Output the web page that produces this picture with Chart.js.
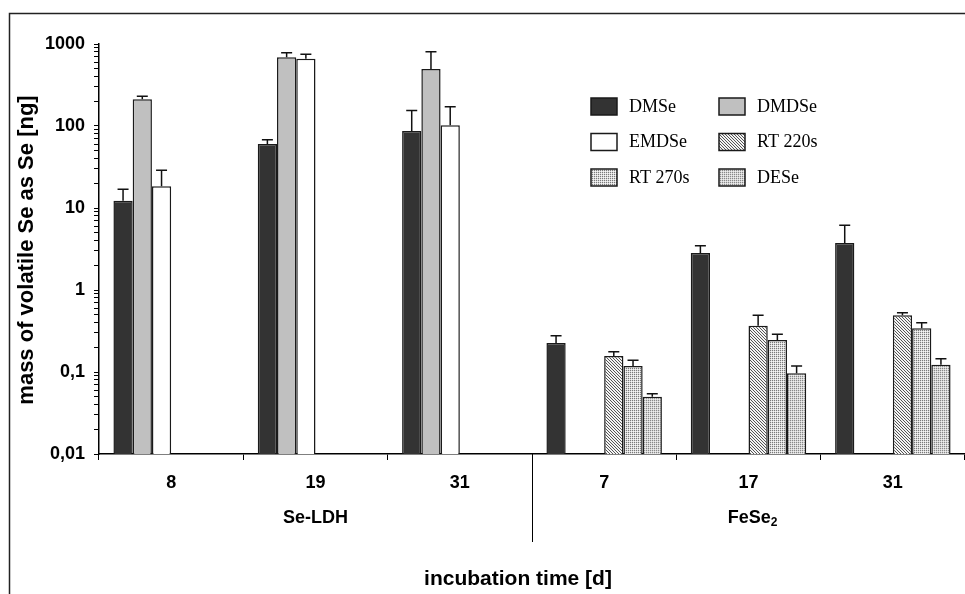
<!DOCTYPE html>
<html>
<head>
<meta charset="utf-8">
<script src="https://cdn.jsdelivr.net/npm/chart.js@4.4.1/dist/chart.umd.min.js"></script>
<style>
  body { margin: 0; background: #fff; }
  #wrap { width: 965px; height: 594px; position: relative; }
</style>
</head>
<body>
<div id="wrap"><canvas id="chart"></canvas></div>
<script>
// incubation times (days), first three Se-LDH, last three FeSe2
const categories = ["8", "19", "31", "7", "17", "31"];
const groupLabels = ["Se-LDH", "FeSe"];

// mean mass of volatile Se [ng]
const dmse  = [12.3, 60.3, 86.9, 0.226, 2.83, 3.74];
const dmdse = [212, 689, 496, null, null, null];
const emdse = [18.4, 662, 102, null, null, null];
const rt220 = [null, null, null, 0.157, 0.367, 0.491];
const rt270 = [null, null, null, 0.118, 0.246, 0.341];
const dese  = [null, null, null, 0.050, 0.0964, 0.123];

// upper end of the error bars [ng]
const dmseErr  = [16.9, 68, 154, 0.277, 3.47, 6.15];
const dmdseErr = [230, 783, 805, null, null, null];
const emdseErr = [28.8, 748, 172, null, null, null];
const rt220Err = [null, null, null, 0.177, 0.491, 0.529];
const rt270Err = [null, null, null, 0.139, 0.288, 0.400];
const deseErr  = [null, null, null, 0.0544, 0.118, 0.145];

const yTickValues = [0.01, 0.1, 1, 10, 100, 1000];
const yTickLabels = ["0,01", "0,1", "1", "10", "100", "1000"];

const seriesNames = ["DMSe", "DMDSe", "EMDSe", "RT 220s", "RT 270s", "DESe"];

function makePattern(size, pixels, bg) {
    const c = document.createElement("canvas");
    c.width = size; c.height = size;
    const g = c.getContext("2d");
    g.fillStyle = bg;
    g.fillRect(0, 0, size, size);
    pixels.forEach(p => {
        g.fillStyle = p[2];
        g.fillRect(p[0], p[1], 1, 1);
    });
    return g.createPattern(c, "repeat");
}

const hatch = makePattern(3, [[0, 0, "#555"], [1, 1, "#555"], [2, 2, "#555"]], "#f4f4f4");
const dots1 = makePattern(2, [[0, 0, "#7a7a7a"], [1, 0, "#dadada"], [0, 1, "#dadada"]], "#f6f6f6");
const dots2 = makePattern(2, [[0, 0, "#888"], [1, 0, "#d4d4d4"], [0, 1, "#d4d4d4"]], "#eeeeee");

const fills = ["#333333", "#c0c0c0", "#ffffff", hatch, dots1, dots2];
const values = [dmse, dmdse, emdse, rt220, rt270, dese];
const errHigh = [dmseErr, dmdseErr, emdseErr, rt220Err, rt270Err, deseErr];

const boldFont = { family: "'Liberation Sans', Arial, sans-serif", weight: "bold", size: 18 };

const datasets = values.map((v, i) => ({
    label: seriesNames[i],
    data: v,
    backgroundColor: fills[i],
    borderColor: "#1a1a1a",
    borderWidth: 1.5,
    barPercentage: 1.0,
    categoryPercentage: 0.8
}));

const errorBars = {
    id: "errorBars",
    afterDatasetsDraw(chart) {
        const ctx = chart.ctx;
        const y = chart.scales.y;
        ctx.save();
        ctx.strokeStyle = "#111";
        ctx.lineWidth = 1.5;
        chart.data.datasets.forEach((ds, i) => {
            const meta = chart.getDatasetMeta(i);
            ds.data.forEach((v, j) => {
                const hi = errHigh[i][j];
                if (v == null || hi == null) return;
                const bar = meta.data[j];
                const yt = y.getPixelForValue(hi);
                ctx.beginPath();
                ctx.moveTo(bar.x, bar.y);
                ctx.lineTo(bar.x, yt);
                ctx.moveTo(bar.x - 5.5, yt);
                ctx.lineTo(bar.x + 5.5, yt);
                ctx.stroke();
            });
        });
        ctx.restore();
    }
};

const decorations = {
    id: "decorations",
    afterDraw(chart) {
        const ctx = chart.ctx;
        const area = chart.chartArea;
        const x = chart.scales.x;
        ctx.save();

        // outer frame (top and left only visible)
        ctx.strokeStyle = "#222";
        ctx.lineWidth = 1.5;
        ctx.beginPath();
        ctx.moveTo(9.5, 594);
        ctx.lineTo(9.5, 13.5);
        ctx.lineTo(965, 13.5);
        ctx.stroke();

        // separator between the two materials
        const sepX = (x.getPixelForValue(2) + x.getPixelForValue(3)) / 2;
        ctx.lineWidth = 1;
        ctx.strokeStyle = "#000";
        ctx.beginPath();
        ctx.moveTo(Math.round(sepX) + 0.5, area.bottom);
        ctx.lineTo(Math.round(sepX) + 0.5, 542);
        ctx.stroke();

        // group labels
        ctx.fillStyle = "#000";
        ctx.font = "bold 18px 'Liberation Sans', Arial, sans-serif";
        ctx.textBaseline = "middle";
        ctx.textAlign = "center";
        ctx.fillText(groupLabels[0], x.getPixelForValue(1), 518);
        const g2x = x.getPixelForValue(4);
        const w1 = ctx.measureText(groupLabels[1]).width;
        ctx.font = "bold 12px 'Liberation Sans', Arial, sans-serif";
        const w2 = ctx.measureText("2").width;
        const start = g2x - (w1 + w2) / 2 + 4;
        ctx.textAlign = "left";
        ctx.font = "bold 18px 'Liberation Sans', Arial, sans-serif";
        ctx.fillText(groupLabels[1], start, 518);
        ctx.font = "bold 12px 'Liberation Sans', Arial, sans-serif";
        ctx.fillText("2", start + w1, 523);

        // axis titles
        ctx.font = "bold 21px 'Liberation Sans', Arial, sans-serif";
        ctx.textAlign = "center";
        ctx.textBaseline = "alphabetic";
        ctx.fillText("incubation time [d]", 518, 585);
        ctx.save();
        ctx.font = "bold 22px 'Liberation Sans', Arial, sans-serif";
        ctx.translate(33, 250);
        ctx.rotate(-Math.PI / 2);
        ctx.fillText("mass of volatile Se as Se [ng]", 0, 0);
        ctx.restore();

        // legend
        const cols = [591, 719];
        const rows = [98, 133.5, 169];
        ctx.font = "18px 'Liberation Serif', 'Times New Roman', serif";
        ctx.textAlign = "left";
        ctx.textBaseline = "middle";
        chart.data.datasets.forEach((ds, i) => {
            const bx = cols[i % 2];
            const by = rows[Math.floor(i / 2)];
            ctx.fillStyle = ds.backgroundColor;
            ctx.fillRect(bx, by, 26, 17);
            ctx.strokeStyle = "#1a1a1a";
            ctx.lineWidth = 1.5;
            ctx.strokeRect(bx, by, 26, 17);
            ctx.fillStyle = "#000";
            ctx.fillText(ds.label, bx + 38, by + 9);
        });

        ctx.restore();
    }
};

new Chart(document.getElementById("chart"), {
    type: "bar",
    data: { labels: categories, datasets: datasets },
    options: {
        responsive: true,
        maintainAspectRatio: false,
        animation: false,
        layout: { padding: { top: 44, right: 0, left: 0, bottom: 0 } },
        plugins: {
            legend: { display: false },
            tooltip: { enabled: false }
        },
        scales: {
            x: {
                type: "category",
                grid: { offset: true, drawOnChartArea: false, drawTicks: true, tickLength: 6, color: "#000", lineWidth: 1 },
                border: { display: true, color: "#000", width: 1.5 },
                ticks: { color: "#000", font: boldFont, padding: 12, maxRotation: 0 },
                afterFit: s => { s.height = 140; }
            },
            y: {
                type: "logarithmic",
                min: 0.01,
                max: 1000,
                afterBuildTicks: axis => {
                    const ticks = [];
                    yTickValues.slice(0, -1).forEach(v => {
                        for (let m = 1; m <= 9; m++) ticks.push({ value: m * v });
                    });
                    ticks.push({ value: yTickValues[yTickValues.length - 1] });
                    axis.ticks = ticks;
                },
                ticks: {
                    autoSkip: false,
                    color: "#000",
                    font: boldFont,
                    padding: 9,
                    callback: value => {
                        const k = yTickValues.indexOf(value);
                        return k >= 0 ? yTickLabels[k] : "";
                    }
                },
                grid: { drawOnChartArea: false, drawTicks: true, tickLength: 5, color: "#000", lineWidth: 1 },
                border: { display: true, color: "#000", width: 1.5 },
                afterFit: s => { s.width = 99; }
            }
        }
    },
    plugins: [errorBars, decorations]
});
</script>
</body>
</html>
